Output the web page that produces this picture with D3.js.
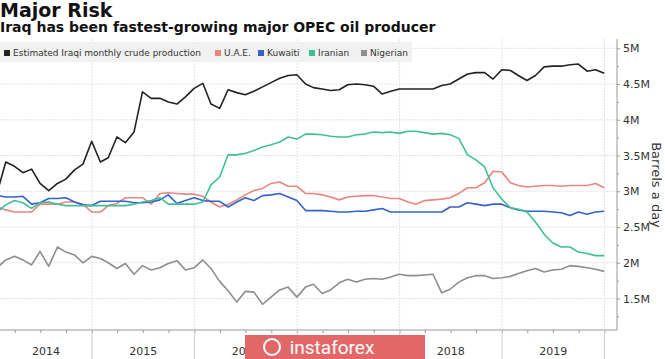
<!DOCTYPE html>
<html>
<head>
<meta charset="utf-8">
<script src="https://cdn.jsdelivr.net/npm/d3@7"></script>
<style>
  body { margin: 0; background: #fff; }
  svg { display: block; font-family: "DejaVu Sans", sans-serif; }
</style>
</head>
<body>
<script>
// monthly values, millions of barrels a day, Jan 2014 .. Dec 2019
const iraq = [3.02, 3.41, 3.35, 3.26, 3.31, 3.11, 3.01, 3.11, 3.17, 3.30, 3.38, 3.70,
    3.41, 3.47, 3.76, 3.68, 3.83, 4.39, 4.30, 4.30, 4.25, 4.22, 4.32, 4.44,
    4.51, 4.22, 4.16, 4.42, 4.38, 4.35, 4.40, 4.46, 4.52, 4.58, 4.62, 4.63,
    4.50, 4.45, 4.43, 4.41, 4.42, 4.49, 4.50, 4.49, 4.47, 4.36, 4.40, 4.43,
    4.43, 4.43, 4.43, 4.43, 4.48, 4.50, 4.57, 4.64, 4.66, 4.66, 4.57, 4.70,
    4.69, 4.62, 4.55, 4.62, 4.74, 4.75, 4.75, 4.77, 4.78, 4.68, 4.70, 4.65];
const uae = [2.78, 2.74, 2.71, 2.71, 2.71, 2.82, 2.82, 2.82, 2.85, 2.85, 2.82, 2.71,
    2.71, 2.80, 2.83, 2.91, 2.91, 2.91, 2.82, 2.97, 2.98, 2.97, 2.96, 2.96,
    2.93, 2.85, 2.78, 2.82, 2.88, 2.95, 3.01, 3.04, 3.11, 3.13, 3.07, 3.07,
    2.97, 2.97, 2.95, 2.92, 2.88, 2.92, 2.93, 2.94, 2.94, 2.92, 2.90, 2.90,
    2.85, 2.82, 2.87, 2.88, 2.89, 2.91, 2.97, 3.05, 3.05, 3.12, 3.28, 3.27,
    3.12, 3.08, 3.06, 3.07, 3.08, 3.08, 3.07, 3.08, 3.08, 3.08, 3.11, 3.05];
const kuwait = [2.94, 2.92, 2.92, 2.93, 2.82, 2.84, 2.90, 2.90, 2.91, 2.85, 2.81, 2.80,
    2.86, 2.86, 2.86, 2.86, 2.84, 2.84, 2.85, 2.88, 2.95, 2.83, 2.87, 2.91,
    2.87, 2.86, 2.86, 2.78, 2.85, 2.91, 2.87, 2.94, 2.95, 2.97, 2.92, 2.87,
    2.73, 2.73, 2.73, 2.72, 2.71, 2.71, 2.72, 2.72, 2.74, 2.76, 2.71, 2.71,
    2.71, 2.71, 2.71, 2.71, 2.71, 2.78, 2.78, 2.84, 2.82, 2.80, 2.82, 2.82,
    2.77, 2.74, 2.72, 2.72, 2.72, 2.71, 2.70, 2.66, 2.71, 2.68, 2.71, 2.72];
const iran = [2.72, 2.81, 2.87, 2.84, 2.76, 2.84, 2.85, 2.82, 2.80, 2.80, 2.80, 2.80,
    2.80, 2.80, 2.80, 2.80, 2.82, 2.85, 2.87, 2.91, 2.82, 2.82, 2.82, 2.82,
    2.85, 3.09, 3.20, 3.51, 3.51, 3.53, 3.57, 3.62, 3.65, 3.69, 3.76, 3.73,
    3.80, 3.80, 3.79, 3.77, 3.76, 3.76, 3.79, 3.80, 3.83, 3.82, 3.83, 3.81,
    3.84, 3.84, 3.82, 3.80, 3.81, 3.79, 3.74, 3.51, 3.44, 3.34, 3.05, 2.89,
    2.77, 2.75, 2.71, 2.57, 2.40, 2.28, 2.22, 2.22, 2.15, 2.13, 2.10, 2.10];
const nigeria = [1.94, 2.04, 2.09, 2.04, 1.97, 2.16, 1.95, 2.22, 2.15, 2.11, 2.00, 2.09,
    2.06, 2.00, 1.92, 1.99, 1.84, 1.96, 1.90, 1.93, 1.99, 2.03, 1.90, 1.93,
    2.04, 1.92, 1.74, 1.61, 1.45, 1.60, 1.59, 1.42, 1.52, 1.62, 1.66, 1.52,
    1.66, 1.70, 1.57, 1.62, 1.72, 1.77, 1.73, 1.77, 1.78, 1.77, 1.80, 1.84,
    1.82, 1.82, 1.83, 1.84, 1.58, 1.63, 1.73, 1.79, 1.82, 1.82, 1.78, 1.79,
    1.81, 1.85, 1.89, 1.92, 1.87, 1.90, 1.91, 1.96, 1.95, 1.93, 1.91, 1.88];

const seriesNames = ["Estimated Iraqi monthly crude production", "U.A.E.", "Kuwaiti", "Iranian", "Nigerian"];
const seriesColors = ["#222222", "#ea8580", "#3462c8", "#3fbf98", "#8e8e8e"];
const yTicks = [1.5, 2, 2.5, 3, 3.5, 4, 4.5, 5];
const yearLabels = ["2014", "2015", "2016", "2017", "2018", "2019"];

// each value sits at the end of its month
const months = d3.timeMonth.range(new Date(2014, 0, 1), new Date(2020, 0, 1))
    .map(d => d3.timeDay.offset(d3.timeMonth.offset(d, 1), -1));

const W = 665, H = 359;
const plot = { left: 0, right: 617, top: 39, bottom: 330 };

const x = d3.scaleTime()
    .domain([new Date(2014, 0, 1), new Date(2020, 0, 1)])
    .range([-10.5, 604.5]);

const y = d3.scaleLinear()
    .domain([1.06, 5.13])
    .range([plot.bottom, plot.top]);

const svg = d3.select("body").append("svg")
    .attr("width", W)
    .attr("height", H);

svg.append("defs").append("clipPath")
    .attr("id", "clip")
    .append("rect")
    .attr("x", plot.left)
    .attr("y", plot.top)
    .attr("width", plot.right - plot.left)
    .attr("height", plot.bottom - plot.top);

// titles
svg.append("text")
    .attr("x", 0).attr("y", 17)
    .attr("font-size", 19).attr("font-weight", "bold").attr("fill", "#111")
    .text("Major Risk");
svg.append("text")
    .attr("x", 0).attr("y", 32)
    .attr("font-size", 14).attr("font-weight", "bold").attr("fill", "#111")
    .text("Iraq has been fastest-growing major OPEC oil producer");

// gridlines
const years = d3.timeYear.range(new Date(2015, 0, 1), new Date(2021, 0, 1));
svg.append("g").selectAll("line")
    .data(yTicks)
    .enter().append("line")
    .attr("x1", plot.left).attr("x2", plot.right)
    .attr("y1", d => y(d)).attr("y2", d => y(d))
    .attr("stroke", "#e3e3e3").attr("stroke-dasharray", "2,1");
svg.append("g").selectAll("line")
    .data(years.slice(0, 6))
    .enter().append("line")
    .attr("x1", d => x(d)).attr("x2", d => x(d))
    .attr("y1", plot.top).attr("y2", plot.bottom)
    .attr("stroke", "#e3e3e3").attr("stroke-dasharray", "2,1");

// legend
const legend = svg.append("g");
legend.append("rect")
    .attr("x", 0).attr("y", 42)
    .attr("width", 412).attr("height", 20)
    .attr("fill", "#f1f1f1");
const legendX = [4, 215, 258, 309, 361];
seriesNames.forEach((name, i) => {
    legend.append("rect")
        .attr("x", legendX[i]).attr("y", 50)
        .attr("width", 6).attr("height", 6)
        .attr("fill", seriesColors[i]);
    legend.append("text")
        .attr("x", legendX[i] + 9).attr("y", 56)
        .attr("font-size", 9).attr("fill", "#333")
        .text(name);
});

// lines
const line = d3.line()
    .x((d, i) => x(months[i]))
    .y(d => y(d));
const lines = svg.append("g").attr("clip-path", "url(#clip)");
[iraq, uae, kuwait, iran, nigeria].forEach((s, i) => {
    lines.append("path")
        .datum(s)
        .attr("d", line)
        .attr("fill", "none")
        .attr("stroke", seriesColors[i])
        .attr("stroke-width", 1.6)
        .attr("stroke-linejoin", "round");
});
// keep Iraq on top
lines.select("path").raise();

// right axis
const yAxis = svg.append("g")
    .attr("transform", "translate(" + plot.right + ",0)")
    .call(d3.axisRight(y).tickValues(yTicks).tickSize(3).tickPadding(3)
        .tickFormat(d => d + "M"));
svg.append("g")
    .attr("transform", "translate(" + plot.right + ",0)")
    .call(d3.axisRight(y).tickValues(yTicks.map(d => d - 0.25)).tickSize(2).tickFormat(""))
    .call(g => g.select(".domain").remove());
yAxis.select(".domain").attr("stroke", "#999").attr("d", "M0," + plot.top + "V" + plot.bottom);
yAxis.selectAll("text").attr("font-size", 11).attr("fill", "#333")
    .attr("font-family", "DejaVu Sans, sans-serif");
svg.selectAll(".tick line").attr("stroke", "#999");

svg.append("text")
    .attr("transform", "translate(652,185) rotate(90)")
    .attr("text-anchor", "middle")
    .attr("font-size", 13).attr("fill", "#333")
    .text("Barrels a day");

// bottom axis
svg.append("line")
    .attr("x1", 0).attr("x2", plot.right)
    .attr("y1", plot.bottom).attr("y2", plot.bottom)
    .attr("stroke", "#999");
svg.append("g")
    .attr("transform", "translate(0," + plot.bottom + ")")
    .call(d3.axisBottom(x).ticks(d3.timeMonth.every(3)).tickSize(3).tickFormat(""))
    .call(g => g.select(".domain").remove())
    .call(g => g.selectAll(".tick line").attr("stroke", "#999"));
svg.append("g").selectAll("line")
    .data(years.slice(0, 6))
    .enter().append("line")
    .attr("x1", d => x(d)).attr("x2", d => x(d))
    .attr("y1", plot.bottom).attr("y2", H)
    .attr("stroke", "#cfcfcf");
svg.append("g").selectAll("text")
    .data(yearLabels)
    .enter().append("text")
    .attr("x", d => {
        const a = Math.max(x(new Date(+d, 0, 1)), 0);
        const b = x(new Date(+d + 1, 0, 1));
        return (a + b) / 2;
    })
    .attr("y", 355)
    .attr("text-anchor", "middle")
    .attr("font-size", 11).attr("fill", "#333")
    .text(d => d);

// watermark
const wm = svg.append("g");
wm.append("rect")
    .attr("x", 245).attr("y", 335)
    .attr("width", 180).attr("height", 24)
    .attr("fill", "#e26867");
wm.append("circle")
    .attr("cx", 272).attr("cy", 347).attr("r", 8)
    .attr("fill", "none").attr("stroke", "#fff").attr("stroke-width", 2);
wm.append("text")
    .attr("x", 332).attr("y", 354)
    .attr("text-anchor", "middle")
    .attr("font-family", "Roboto, sans-serif")
    .attr("font-size", 19).attr("fill", "#fff")
    .text("instaforex");
</script>
</body>
</html>
